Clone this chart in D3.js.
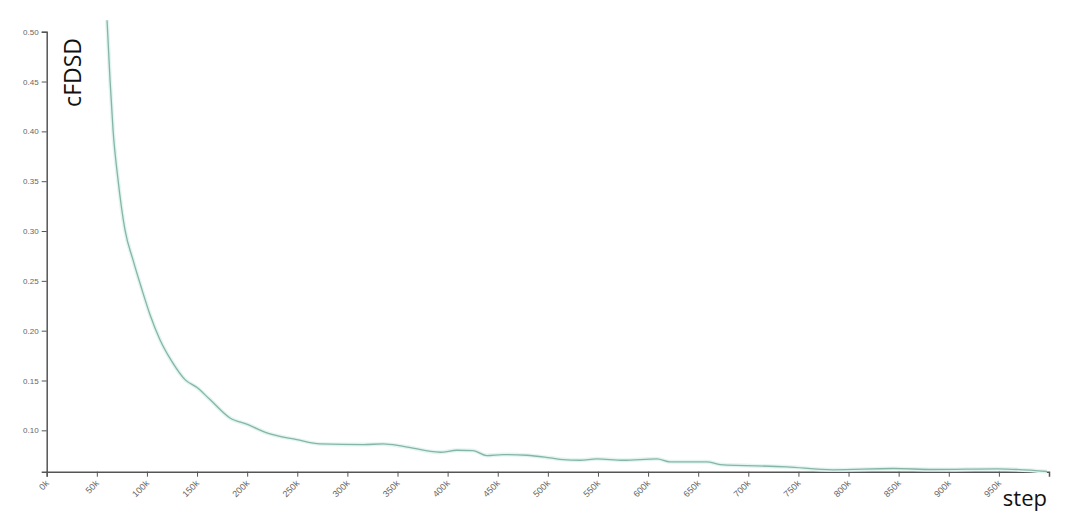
<!DOCTYPE html>
<html>
<head>
<meta charset="utf-8">
<script src="https://cdn.jsdelivr.net/npm/d3@7"></script>
<style>
  body { margin: 0; background: #fff; }
  .tick text { fill: #666; font-family: "Liberation Sans", Arial, sans-serif; font-size: 8px; }
  .axis path, .axis line { stroke: #555; }
</style>
</head>
<body>
<div id="chart"></div>
<script>
// step in thousands
var steps = [60.2, 63.2, 66.2, 71.2, 78.1, 86.1, 95.1, 103.1, 113.0, 125.0, 138.0, 150.0, 162.9, 182.9, 200.9,
             219.6, 249.5, 272.8, 316.0, 335.7, 355.7, 392.6, 409.2, 425.5, 439.1, 455.4, 479.0, 502.3, 515.3,
             532.2, 548.9, 575.2, 608.8, 622.0, 658.7, 672.0, 738.5, 784.7, 844.6, 884.6, 948.1, 998.0];
var cfdsd = [0.5115, 0.4514, 0.4013, 0.3512, 0.3011, 0.2710, 0.2410, 0.2160, 0.1909, 0.1689, 0.1509, 0.1429, 0.1309, 0.1124, 0.1057,
             0.0974, 0.0907, 0.0864, 0.0857, 0.0864, 0.0840, 0.0780, 0.0800, 0.0797, 0.0747, 0.0757, 0.0750, 0.0724, 0.0707,
             0.0700, 0.0714, 0.0700, 0.0714, 0.0684, 0.0684, 0.0657, 0.0634, 0.0604, 0.0617, 0.0607, 0.0614, 0.0587];
var yTicks = [0.10, 0.15, 0.20, 0.25, 0.30, 0.35, 0.40, 0.45, 0.50];
var xTicks = d3.range(0, 1000, 50);

var width = 1080,
    height = 530,
    margin = {top: 31.7, right: 31, bottom: 58.3, left: 46.7};

var svg = d3.select('#chart').append('svg')
              .attr('width', width)
              .attr('height', height);

var x = d3.scaleLinear().domain([0, 1000]).range([margin.left, width - margin.right]);
var y = d3.scaleLinear().domain([0.0585, 0.5]).range([height - margin.bottom, margin.top]);

// x axis
var xAxis = svg.append('g')
    .attr('class', 'axis')
    .attr('transform', 'translate(0,' + (height - margin.bottom) + ')')
    .call(d3.axisBottom(x).tickValues(xTicks).tickSize(5).tickFormat(function(d){ return d + 'k'; }));
xAxis.select('.domain').attr('stroke-width', 1.5);
xAxis.selectAll('.tick text')
    .style('text-anchor', 'end')
    .style('font-size', '9px')
    .attr('x', 0)
    .attr('y', 0)
    .attr('dx', 0)
    .attr('dy', '0.35em')
    .attr('transform', 'translate(0,10) rotate(-45)');

// y axis
var yAxis = svg.append('g')
    .attr('class', 'axis')
    .attr('transform', 'translate(' + margin.left + ',0)')
    .call(d3.axisLeft(y).tickValues(yTicks).tickSize(5).tickFormat(d3.format('.2f')));
yAxis.select('.domain').attr('stroke-width', 1.5);

// curve
var line = d3.line()
    .x(function(d, i){ return x(steps[i]); })
    .y(function(d){ return y(d); })
    .curve(d3.curveMonotoneX);

svg.append('path')
    .datum(cfdsd)
    .attr('fill', 'none')
    .attr('stroke', '#e2f5f0')
    .attr('stroke-width', 4)
    .attr('d', line);

svg.append('path')
    .datum(cfdsd)
    .attr('fill', 'none')
    .attr('stroke', '#86b5a7')
    .attr('stroke-width', 1.3)
    .attr('d', line);

// axis titles
svg.append('text')
    .attr('transform', 'translate(81,38) rotate(-90)')
    .style('text-anchor', 'end')
    .style('font-family', '"Open Sans", sans-serif')
    .style('font-size', '23px')
    .attr('fill', '#111')
    .text('cFDSD');

svg.append('text')
    .attr('x', 1047)
    .attr('y', 506)
    .style('text-anchor', 'end')
    .style('font-family', '"Open Sans", sans-serif')
    .style('font-size', '22px')
    .attr('fill', '#111')
    .text('step');
</script>
</body>
</html>
